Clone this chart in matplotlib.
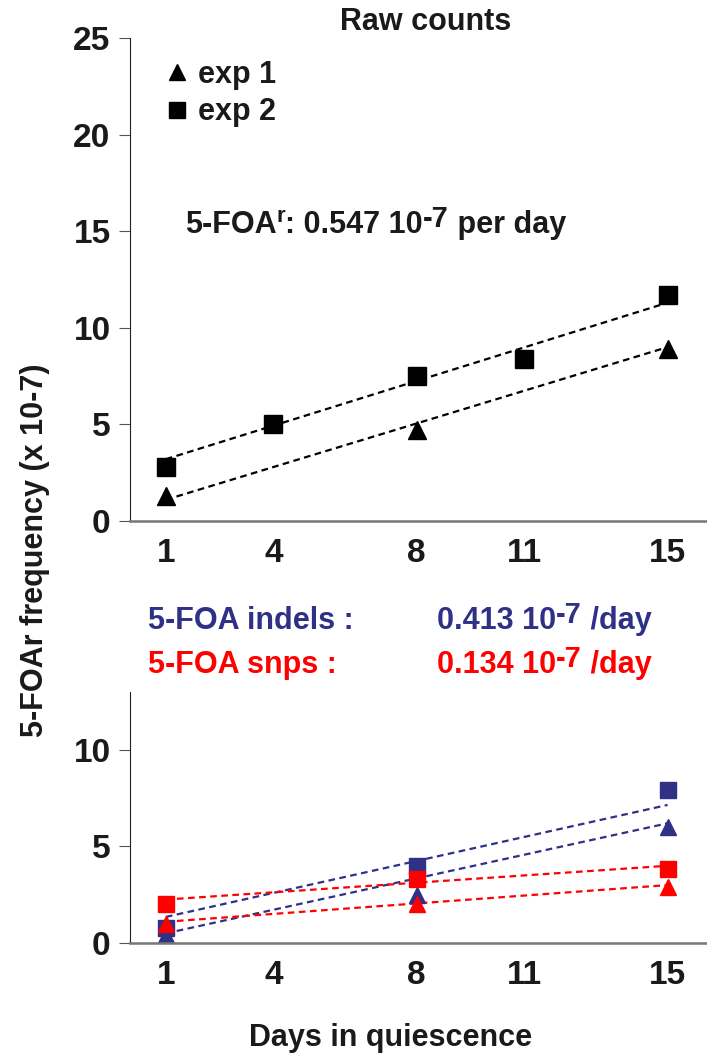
import matplotlib
matplotlib.use("Agg")
import matplotlib.pyplot as plt
from matplotlib.lines import Line2D

plt.rcParams['font.family'] = ['Liberation Sans', 'DejaVu Sans']
plt.rcParams['font.weight'] = 'bold'

BLUE = "#2e3185"
RED = "#ff0000"
INK = "#1a1a1a"

# top panel: raw counts
days_exp1 = [1, 8, 15]
freq_exp1 = [1.3, 4.7, 8.9]
days_exp2 = [1, 4, 8, 11, 15]
freq_exp2 = [2.8, 5.0, 7.5, 8.4, 11.7]
fit_days = [1, 15]
fit_exp1 = [1.1, 9.0]
fit_exp2 = [3.2, 11.3]

# bottom panel: indels (blue) and snps (red)
days_bottom = [1, 8, 15]
indel_exp1 = [0.4, 2.5, 6.0]
indel_exp2 = [0.8, 4.0, 7.9]
snp_exp1 = [1.0, 2.0, 2.9]
snp_exp2 = [2.0, 3.3, 3.85]
fit_indel_exp1 = [0.5, 6.2]
fit_indel_exp2 = [1.35, 7.15]
fit_snp_exp1 = [1.1, 3.0]
fit_snp_exp2 = [2.25, 4.0]

xticks = [1, 4, 8, 11, 15]

W, H = 707, 1057
fig = plt.figure(figsize=(W / 100, H / 100), dpi=100)

def px_axes(left, top, right, bottom):
    return fig.add_axes([left / W, 1 - bottom / H, (right - left) / W, (bottom - top) / H])

ax1 = px_axes(130, 38, 707, 521)
ax2 = px_axes(130, 692, 707, 943)

def style(ax, ymax, yticks):
    ax.set_xlim(0, 16.1)
    ax.set_ylim(0, ymax)
    ax.set_xticks(xticks)
    ax.set_yticks(yticks)
    for s in ("top", "right"):
        ax.spines[s].set_visible(False)
    ax.spines["left"].set_color("#222222")
    ax.spines["bottom"].set_color("#777777")
    ax.spines["bottom"].set_linewidth(1.8)
    ax.tick_params(axis="x", length=0, pad=12, labelsize=24)
    ax.tick_params(axis="y", length=8, color="#555555", pad=6, labelsize=24)
    for lab in ax.get_xticklabels() + ax.get_yticklabels():
        lab.set_fontweight("bold")
        lab.set_color(INK)

style(ax1, 25, [0, 5, 10, 15, 20, 25])
style(ax2, 13, [0, 5, 10])

dash = dict(linestyle=(0, (3, 2)), linewidth=1.6)

ax1.plot(fit_days, fit_exp2, color="black", **dash)
ax1.plot(fit_days, fit_exp1, color="black", **dash)
ax1.plot(days_exp2, freq_exp2, "s", color="black", markersize=13.5, linestyle="none")
ax1.plot(days_exp1, freq_exp1, "^", color="black", markersize=13.5, linestyle="none")

ax2.plot(fit_days, fit_indel_exp2, color=BLUE, **dash)
ax2.plot(fit_days, fit_indel_exp1, color=BLUE, **dash)
ax2.plot(fit_days, fit_snp_exp2, color=RED, **dash)
ax2.plot(fit_days, fit_snp_exp1, color=RED, **dash)
ax2.plot(days_bottom, indel_exp2, "s", color=BLUE, markersize=11.5, linestyle="none")
ax2.plot(days_bottom, indel_exp1, "^", color=BLUE, markersize=11.5, linestyle="none")
ax2.plot(days_bottom, snp_exp2, "s", color=RED, markersize=11.5, linestyle="none")
ax2.plot(days_bottom, snp_exp1, "^", color=RED, markersize=11.5, linestyle="none")

handles = [Line2D([], [], marker="^", color="black", linestyle="none", markersize=12),
           Line2D([], [], marker="s", color="black", linestyle="none", markersize=11.5)]
leg = ax1.legend(handles, ["exp 1", "exp 2"], loc="upper left", bbox_to_anchor=(0.06, 0.955),
                 frameon=False, handlelength=0.8, handletextpad=0.3, labelspacing=0.25,
                 borderpad=0, borderaxespad=0, prop=dict(size=22, weight="bold"))
for t in leg.get_texts():
    t.set_color(INK)


def rich_text(x_px, y_px, parts, color):
    """Chain text pieces left to right; each part is (text, fontsize, rise in points)."""
    text, size, _ = parts[0]
    base = fig.text(x_px / W, 1 - y_px / H, text, fontsize=size, fontweight="bold",
                    color=color, ha="left", va="bottom")
    prev = base
    for text, size, rise in parts[1:]:
        prev = ax1.annotate(text, xy=(1, 0), xycoords=(prev, base),
                            xytext=(0, rise), textcoords="offset points",
                            fontsize=size, fontweight="bold", color=color,
                            ha="left", va="bottom", annotation_clip=False, clip_on=False)
    return base


rich_text(185, 240, [("5-FOA", 22, 0), ("r", 16, 9), (": 0.547 10", 22, 0),
                     ("-7", 21, 5), (" per day", 22, 0)], INK)
rich_text(148, 636, [("5-FOA indels :", 22, 0)], BLUE)
rich_text(437, 636, [("0.413 10", 22, 0), ("-7", 21, 5), (" /day", 22, 0)], BLUE)
rich_text(148, 680, [("5-FOA snps :", 22, 0)], RED)
rich_text(437, 680, [("0.134 10", 22, 0), ("-7", 21, 5), (" /day", 22, 0)], RED)

fig.text(426 / W, 1 - 22 / H, "Raw counts", fontsize=22, fontweight="bold",
         ha="center", va="center", color=INK)
fig.text(35 / W, 1 - 550 / H, "5-FOAr frequency (x 10-7)", fontsize=22, fontweight="bold",
         rotation=90, ha="center", va="center", color=INK)
fig.text(391 / W, 1 - 1038 / H, "Days in quiescence", fontsize=22, fontweight="bold",
         ha="center", va="center", color=INK)

fig.savefig("out.png", dpi=100)
